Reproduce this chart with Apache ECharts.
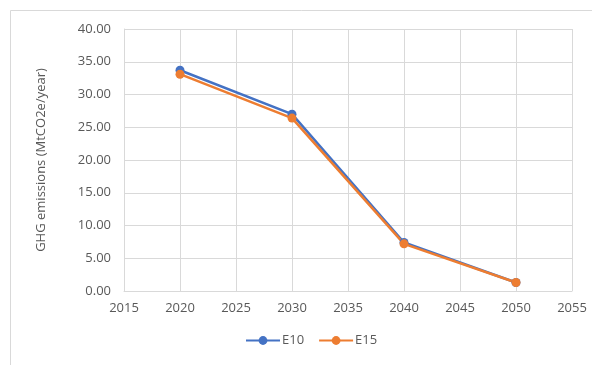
<!DOCTYPE html>
<html>
<head>
<meta charset="utf-8">
<script src="https://cdn.jsdelivr.net/npm/echarts@6/dist/echarts.min.js"></script>
<style>
  html, body { margin: 0; padding: 0; background: #ffffff; }
  #chart { width: 592px; height: 365px; }
</style>
</head>
<body>
<div id="chart"></div>
<script>
// Emission pathways by blend scenario
const years = [2020, 2030, 2040, 2050];
const e10 = [33.7, 27.0, 7.4, 1.3];
const e15 = [33.1, 26.4, 7.2, 1.3];
const seriesNames = ['E10', 'E15'];
const seriesColors = ['#4472C4', '#ED7D31'];
const yAxisTitle = 'GHG emissions (MtCO2e/year)';

const pairs = (xs, ys) => xs.map((x, i) => [x, ys[i]]);
const textColor = '#595959';
const gridColor = '#d9d9d9';
const font = '"Open Sans", "Noto Sans", sans-serif';

const chart = echarts.init(document.getElementById('chart'), null, { renderer: 'canvas' });

chart.setOption({
  animation: false,
  backgroundColor: '#ffffff',
  graphic: [{
    type: 'rect',
    shape: { x: 10.5, y: 10.5, width: 620, height: 400 },
    style: { fill: 'none', stroke: gridColor, lineWidth: 1 },
    silent: true,
    z: -1
  }],
  grid: { left: 124, top: 29, right: 20, bottom: 74, containLabel: false },
  legend: {
    bottom: 13,
    left: 240,
    itemWidth: 34,
    itemHeight: 11,
    itemGap: 14,
    textStyle: { color: textColor, fontSize: 13, fontFamily: font, padding: [0, 0, 0, -3] },
    data: seriesNames
  },
  xAxis: {
    type: 'value',
    min: 2015,
    max: 2055,
    interval: 5,
    axisLine: { show: true, lineStyle: { color: gridColor, width: 1 } },
    axisTick: { show: false },
    splitLine: { show: true, lineStyle: { color: gridColor, width: 1 } },
    axisLabel: {
      color: textColor, fontSize: 13, fontFamily: font, margin: 11,
      formatter: v => String(v)
    }
  },
  yAxis: {
    type: 'value',
    min: 0,
    max: 40,
    interval: 5,
    name: yAxisTitle,
    nameLocation: 'middle',
    nameGap: 76,
    nameTextStyle: { color: textColor, fontSize: 13, fontFamily: font },
    axisLine: { show: true, lineStyle: { color: gridColor, width: 1 } },
    axisTick: { show: false },
    splitLine: { show: true, lineStyle: { color: gridColor, width: 1 } },
    axisLabel: {
      color: textColor, fontSize: 13, fontFamily: font, margin: 13,
      formatter: v => v.toFixed(2)
    }
  },
  series: [
    {
      name: seriesNames[0],
      type: 'line',
      data: pairs(years, e10),
      color: seriesColors[0],
      symbol: 'circle',
      symbolSize: 9,
      lineStyle: { width: 2.5, color: seriesColors[0] },
      itemStyle: { color: seriesColors[0] }
    },
    {
      name: seriesNames[1],
      type: 'line',
      data: pairs(years, e15),
      color: seriesColors[1],
      symbol: 'circle',
      symbolSize: 9,
      lineStyle: { width: 2.5, color: seriesColors[1] },
      itemStyle: { color: seriesColors[1] }
    }
  ]
});
</script>
</body>
</html>
